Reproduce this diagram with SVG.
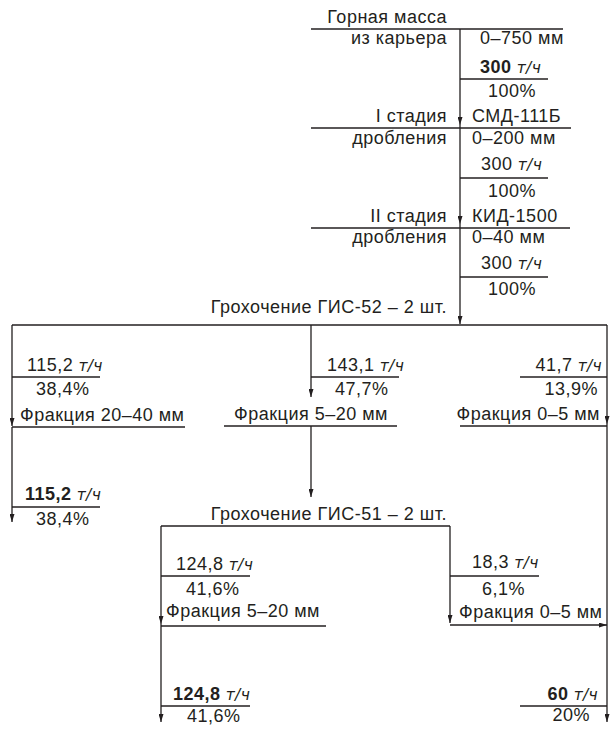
<svg xmlns="http://www.w3.org/2000/svg" width="610" height="729" viewBox="0 0 610 729">
<style>
text{font-family:"Liberation Sans",Arial,sans-serif;font-size:18px;letter-spacing:0.5px;fill:#231f20}
.e{text-anchor:end}
.m{text-anchor:middle}
.b{font-weight:bold}
.i{font-family:"DejaVu Sans",sans-serif;font-style:oblique;font-size:15.5px;letter-spacing:0.3px}
line{stroke:#231f20;stroke-width:1.3}
.c line{marker-end:url(#ah)}
</style>
<defs>
<marker id="ah" viewBox="0 0 8 5" refX="8" refY="2.5" markerWidth="8" markerHeight="5" orient="auto" markerUnits="userSpaceOnUse"><path d="M0,0 L8,2.5 L0,5 z" fill="#231f20"/></marker>
</defs>
<rect width="610" height="729" fill="#fff"/>

<g id="source">
<text class="e" x="447" y="23">Горная масса</text>
<line x1="311" y1="29" x2="563" y2="29"/>
<text class="e" x="447" y="44">из карьера</text>
<text x="480" y="44">0–750 мм</text>
</g>
<g id="flow1">
<text x="480" y="73"><tspan class="b">300</tspan><tspan class="i"> т/ч</tspan></text>
<line x1="460" y1="79" x2="548" y2="79"/>
<text class="m" x="512" y="97">100%</text>
</g>
<g id="stage1">
<text class="e" x="447" y="122">I стадия</text>
<text x="472" y="122">СМД-111Б</text>
<line x1="311" y1="128" x2="571" y2="128"/>
<text class="e" x="447" y="144">дробления</text>
<text x="472" y="144">0–200 мм</text>
</g>
<g id="flow2">
<text x="481" y="170">300<tspan class="i"> т/ч</tspan></text>
<line x1="460" y1="178" x2="548" y2="178"/>
<text class="m" x="512" y="197">100%</text>
</g>
<g id="stage2">
<text class="e" x="447" y="222">II стадия</text>
<text x="472" y="222">КИД-1500</text>
<line x1="311" y1="228" x2="570" y2="228"/>
<text class="e" x="447" y="243">дробления</text>
<text x="472" y="243">0–40 мм</text>
</g>
<g id="flow3">
<text x="481" y="269">300<tspan class="i"> т/ч</tspan></text>
<line x1="460" y1="277" x2="548" y2="277"/>
<text class="m" x="512" y="295">100%</text>
</g>
<g id="screen52">
<text class="e" x="447" y="313">Грохочение ГИС-52 – 2 шт.</text>
<line x1="12" y1="325" x2="607" y2="325"/>
</g>
<g id="flowL1">
<text x="27" y="371">115,2<tspan class="i"> т/ч</tspan></text>
<line x1="12" y1="377" x2="100" y2="377"/>
<text x="36" y="395">38,4%</text>
</g>
<g id="frac2040">
<text x="20" y="421">Фракция 20–40 мм</text>
<line x1="12" y1="427" x2="185" y2="427"/>
</g>
<g id="flowL2">
<text x="25" y="500"><tspan class="b">115,2</tspan><tspan class="i"> т/ч</tspan></text>
<line x1="12" y1="507" x2="100" y2="507"/>
<text x="36" y="525">38,4%</text>
</g>
<g id="flowM1">
<text x="327" y="371">143,1<tspan class="i"> т/ч</tspan></text>
<line x1="311" y1="377" x2="399" y2="377"/>
<text x="335" y="395">47,7%</text>
</g>
<g id="frac520a">
<text class="e" x="388" y="420">Фракция 5–20 мм</text>
<line x1="224" y1="426" x2="397" y2="426"/>
</g>
<g id="flowR1">
<text class="e" x="602" y="371">41,7<tspan class="i"> т/ч</tspan></text>
<line x1="520" y1="377" x2="607" y2="377"/>
<text class="e" x="598" y="395">13,9%</text>
</g>
<g id="frac05a">
<text class="e" x="600" y="420">Фракция 0–5 мм</text>
<line x1="460" y1="426" x2="607" y2="426"/>
</g>
<g id="screen51">
<text class="e" x="447" y="520">Грохочение ГИС-51 – 2 шт.</text>
<line x1="161" y1="526" x2="450" y2="526"/>
</g>
<g id="flowM2">
<text x="176" y="570">124,8<tspan class="i"> т/ч</tspan></text>
<line x1="161" y1="576" x2="250" y2="576"/>
<text x="186" y="595">41,6%</text>
</g>
<g id="flowR2">
<text x="472" y="568">18,3<tspan class="i"> т/ч</tspan></text>
<line x1="450" y1="576" x2="539" y2="576"/>
<text x="482" y="595">6,1%</text>
</g>
<g id="frac520b">
<text x="166" y="617">Фракция 5–20 мм</text>
<line x1="161" y1="626" x2="326" y2="626"/>
</g>
<g id="frac05b">
<text x="459" y="618">Фракция 0–5 мм</text>
</g>
<g id="product520">
<text x="173" y="700"><tspan class="b">124,8</tspan><tspan class="i"> т/ч</tspan></text>
<line x1="161" y1="706" x2="250" y2="706"/>
<text x="187" y="722">41,6%</text>
</g>
<g id="product05">
<text class="e" x="598" y="700"><tspan class="b">60</tspan><tspan class="i"> т/ч</tspan></text>
<line x1="520" y1="706" x2="607" y2="706"/>
<text class="e" x="590" y="721">20%</text>
</g>

<g id="connectors" class="c">
<line x1="460" y1="29" x2="460" y2="125"/>
<line x1="460" y1="125" x2="460" y2="224"/>
<line x1="460" y1="224" x2="460" y2="324"/>
<line x1="12" y1="325" x2="12" y2="426"/>
<line x1="12" y1="427" x2="12" y2="522"/>
<line x1="311" y1="325" x2="311" y2="397"/>
<line x1="311" y1="426" x2="311" y2="497"/>
<line x1="607" y1="325" x2="607" y2="424"/>
<line x1="607" y1="424" x2="607" y2="722"/>
<line x1="161" y1="526" x2="161" y2="624"/>
<line x1="161" y1="624" x2="161" y2="722"/>
<line x1="450" y1="526" x2="450" y2="623"/>
<line x1="450" y1="625" x2="607" y2="625"/>
</g>
</svg>
